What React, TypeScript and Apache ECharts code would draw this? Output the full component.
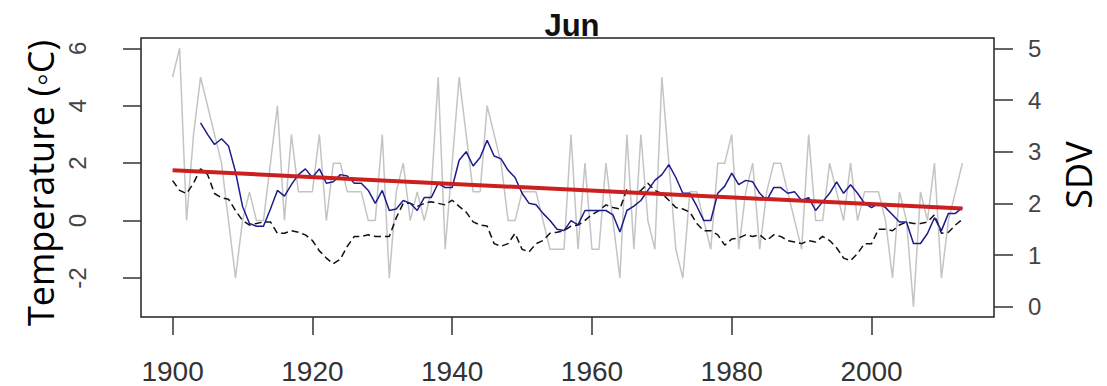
import React, { useEffect, useRef } from 'react';
import * as echarts from 'echarts';

// Annual temperature anomaly (°C), 1900–2013 (grey)
const grayStart = 1900;
const grayValues = [
  5, 6, 0, 3, 5, 4, 3, 2, 0, -2,
  0, 1, 0, 0, 2, 4, 0, 3, 1, 1,
  1, 3, 0, 2, 2, 1, 1, 1, 0, 0,
  3, -2, 1, 2, 0, 1, 0, 1, 5, -1,
  2, 5, 3, 1, 1, 4, 3, 2, 0, 0,
  1, 1, 1, 0, -1, -1, -1, 3, -1, 2,
  -1, -1, 2, 0, -2, 3, -1, 3, 0, -1,
  5, 2, -1, -2, 1, 1, 0, -1, 2, 2,
  3, -1, 1, 2, -1, 1, 2, 2, 1, 0,
  -1, 3, 0, 0, 2, 1, 0, 2, 0, 1,
  1, 1, 0, -2, 1, 0, -3, 1, 0, 2,
  -2, 0, 1, 2,
];

// Running mean temperature (°C), 1904–2013 (blue)
const blueStart = 1904;
const blueValues = [
  3.4, 3.0, 2.65, 2.85, 2.6, 1.7,
  0.5, -0.1, -0.2, -0.2, 0.4, 1.05, 0.85, 1.25, 1.6, 1.8,
  1.5, 1.8, 1.3, 1.35, 1.6, 1.55, 1.3, 1.3, 1.05, 0.6,
  1.05, 0.35, 0.4, 0.7, 0.6, 0.35, 0.8, 0.8, 1.3, 1.15,
  1.15, 2.1, 2.4, 1.9, 2.2, 2.8, 2.25, 2.15, 1.75, 1.5,
  0.95, 0.6, 0.55, 0.25, 0.0, -0.3, -0.35, 0.0, -0.15, 0.35,
  0.35, 0.35, 0.35, 0.2, -0.4, 0.35, 0.5, 0.7, 1.05, 1.4,
  1.6, 1.95, 1.5, 0.95, 0.95, 0.5, 0.0, 0.0, 0.95, 1.2,
  1.65, 1.25, 1.4, 1.35, 0.95, 0.7, 1.15, 1.15, 0.95, 1.0,
  0.7, 0.8, 0.35, 0.65, 0.95, 1.35, 0.95, 1.25, 0.95, 0.6,
  0.45, 0.6, 0.45, 0.2, -0.05, -0.05, -0.8, -0.8, -0.45, 0.1,
  -0.35, 0.25, 0.25, 0.45,
];

// Running standard deviation (SDV), 1900–2013 (black dashed, right axis)
const sdvStart = 1900;
const sdvValues = [
  2.44, 2.25, 2.19, 2.39, 2.67, 2.56, 2.19, 2.11, 2.08, 1.86,
  1.67, 1.58, 1.61, 1.64, 1.64, 1.42, 1.42, 1.47, 1.44, 1.39,
  1.28, 1.08, 0.94, 0.83, 0.92, 1.17, 1.36, 1.36, 1.39, 1.36,
  1.36, 1.36, 1.72, 2.0, 2.0, 1.94, 2.0, 2.03, 2.0, 1.97,
  2.06, 1.94, 1.83, 1.64, 1.58, 1.56, 1.22, 1.17, 1.22, 1.42,
  1.11, 1.06, 1.22, 1.28, 1.42, 1.44, 1.47, 1.56, 1.58, 1.67,
  1.78, 1.86, 1.97, 1.92, 1.89, 2.28, 2.19, 2.25, 2.39, 2.25,
  2.19, 2.06, 1.92, 1.89, 1.83, 1.61, 1.47, 1.47, 1.39, 1.19,
  1.31, 1.33, 1.39, 1.36, 1.39, 1.28, 1.39, 1.36, 1.28, 1.25,
  1.22, 1.28, 1.25, 1.36, 1.28, 1.14, 0.94, 0.89, 1.03, 1.22,
  1.22, 1.5, 1.5, 1.47, 1.58, 1.64, 1.61, 1.61, 1.64, 1.78,
  1.42, 1.44, 1.58, 1.69,
];

// Linear trend (red)
const trendYears = [1900, 2013];
const trendValues = [1.75, 0.42];

const xTicks = [1900, 1920, 1940, 1960, 1980, 2000];
const leftTicks = [-2, 0, 2, 4, 6];
const rightTicks = [0, 1, 2, 3, 4, 5];

const pairUp = (start: number, arr: number[]) => arr.map((v, i) => [start + i, v]);

export default function App() {
  const ref = useRef<HTMLDivElement>(null);
  useEffect(() => {
    const chart = echarts.init(ref.current!, null, { renderer: 'svg' });
    const tickStyle = { color: '#333', width: 1.5 };
    chart.setOption({
      animation: false,
      backgroundColor: '#ffffff',
      title: {
        text: 'Jun',
        left: 567,
        top: 5,
        textAlign: 'center',
        textStyle: { fontFamily: 'Liberation Sans', fontWeight: 'bold', fontSize: 31, color: '#111' },
      },
      grid: {
        left: 141,
        right: 113,
        top: 38,
        bottom: 69,
        show: true,
        borderColor: '#222',
        borderWidth: 1.5,
        backgroundColor: 'transparent',
      },
      xAxis: {
        type: 'value',
        min: 1895.48,
        max: 2017.52,
        splitLine: { show: false },
        axisLine: { show: false, onZero: false },
        axisTick: { show: true, customValues: xTicks, length: 18, lineStyle: tickStyle },
        axisLabel: {
          customValues: xTicks,
          margin: 40,
          fontSize: 28,
          fontFamily: 'Liberation Sans',
          color: '#333',
          formatter: (v: number) => String(v),
        },
      },
      yAxis: [
        {
          type: 'value',
          position: 'left',
          min: -3.36,
          max: 6.36,
          splitLine: { show: false },
          axisLine: { show: false, onZero: false },
          axisTick: { show: true, customValues: leftTicks, length: 18, lineStyle: tickStyle },
          axisLabel: {
            customValues: leftTicks,
            rotate: 90,
            margin: 52,
            fontSize: 24,
            fontFamily: 'Liberation Sans',
            color: '#444',
            formatter: (v: number) => String(v),
          },
        },
        {
          type: 'value',
          position: 'right',
          min: -0.2,
          max: 5.2,
          splitLine: { show: false },
          axisLine: { show: false, onZero: false },
          axisTick: { show: true, customValues: rightTicks, length: 19, lineStyle: tickStyle },
          axisLabel: {
            customValues: rightTicks,
            margin: 34,
            fontSize: 24,
            fontFamily: 'Liberation Sans',
            color: '#444',
            formatter: (v: number) => String(v),
          },
        },
      ],
      graphic: [
        {
          type: 'text',
          x: 40,
          y: 183,
          rotation: Math.PI / 2,
          style: {
            text: 'Temperature (◦C)',
            font: '36px "Open Sans"',
            fill: '#000',
            textAlign: 'center',
            textVerticalAlign: 'middle',
          },
        },
        {
          type: 'text',
          x: 1078,
          y: 175,
          rotation: Math.PI / 2,
          style: {
            text: 'SDV',
            font: '36px "Open Sans"',
            fill: '#000',
            textAlign: 'center',
            textVerticalAlign: 'middle',
          },
        },
      ],
      series: [
        {
          type: 'line',
          name: 'Annual',
          yAxisIndex: 0,
          data: pairUp(grayStart, grayValues),
          symbol: 'none',
          lineStyle: { color: '#c4c4c4', width: 1.5 },
          z: 1,
        },
        {
          type: 'line',
          name: 'SDV',
          yAxisIndex: 1,
          data: pairUp(sdvStart, sdvValues),
          symbol: 'none',
          lineStyle: { color: '#111', width: 1.5, type: [7, 4] },
          z: 2,
        },
        {
          type: 'line',
          name: 'Running mean',
          yAxisIndex: 0,
          data: pairUp(blueStart, blueValues),
          symbol: 'none',
          lineStyle: { color: '#1c1c8a', width: 1.5 },
          z: 3,
        },
        {
          type: 'line',
          name: 'Trend',
          yAxisIndex: 0,
          data: trendYears.map((y, i) => [y, trendValues[i]]),
          symbol: 'none',
          lineStyle: { color: '#cc2020', width: 4 },
          z: 4,
        },
      ],
    });
    return () => chart.dispose();
  }, []);
  return <div ref={ref} style={{ position: 'fixed', left: 0, top: 0, width: 1107, height: 386 }} />;
}
